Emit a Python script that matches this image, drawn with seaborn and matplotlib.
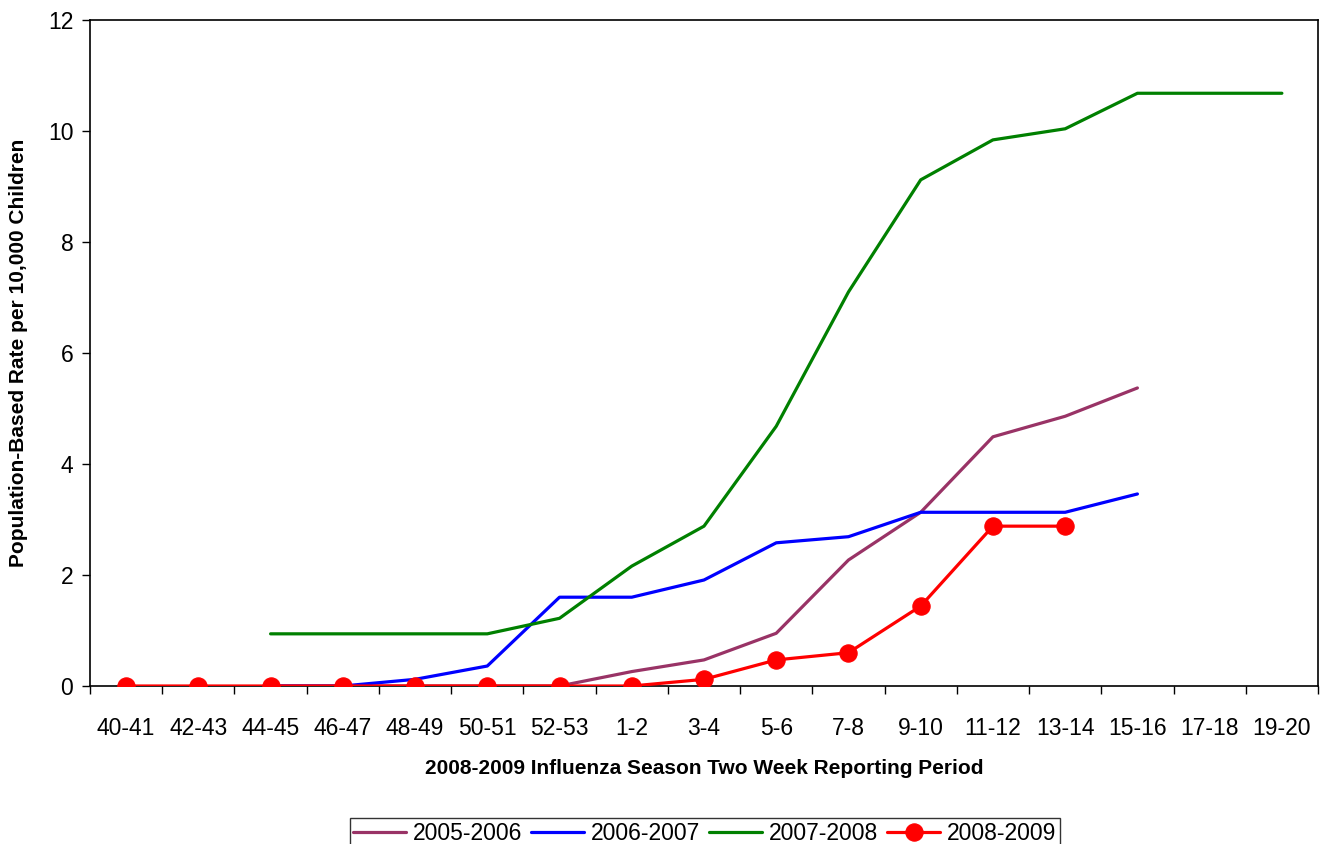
import numpy as np
import pandas as pd
import matplotlib
matplotlib.use('Agg')
import matplotlib.pyplot as plt
import seaborn as sns

periods = ['40-41', '42-43', '44-45', '46-47', '48-49', '50-51', '52-53', '1-2', '3-4',
           '5-6', '7-8', '9-10', '11-12', '13-14', '15-16', '17-18', '19-20']
nan = np.nan
s2005 = [nan, nan, 0.0, 0.0, 0.0, 0.0, 0.0, 0.26, 0.47, 0.95, 2.27, 3.13, 4.49, 4.86, 5.37, nan, nan]
s2006 = [nan, nan, 0.0, 0.0, 0.12, 0.36, 1.60, 1.60, 1.91, 2.58, 2.69, 3.13, 3.13, 3.13, 3.46, nan, nan]
s2007 = [nan, nan, 0.94, 0.94, 0.94, 0.94, 1.22, 2.16, 2.88, 4.68, 7.10, 9.12, 9.84, 10.04, 10.68, 10.68, 10.68]
s2008 = [0.0, 0.0, 0.0, 0.0, 0.0, 0.0, 0.0, 0.0, 0.12, 0.47, 0.60, 1.44, 2.88, 2.88, nan, nan, nan]
seasons = ['2005-2006', '2006-2007', '2007-2008', '2008-2009']
colors = ['#993366', '#0000FF', '#008000', '#FF0000']

sns.set_style('white')
plt.rcParams['font.family'] = ['Liberation Sans', 'DejaVu Sans']
plt.rcParams['text.color'] = 'black'
plt.rcParams['axes.labelcolor'] = 'black'
plt.rcParams['xtick.color'] = 'black'
plt.rcParams['ytick.color'] = 'black'

fig = plt.figure(figsize=(13.27, 8.44), dpi=100)
ax = fig.add_axes([90 / 1327, 1 - 686 / 844, (1318 - 90) / 1327, (686 - 20) / 844])

pos = np.arange(len(periods))
for name, vals, col in zip(seasons, [s2005, s2006, s2007, s2008], colors):
    d = pd.DataFrame({'pos': pos, 'rate': vals}).dropna()
    if name == '2008-2009':
        sns.lineplot(data=d, x='pos', y='rate', ax=ax, color=col, lw=2.3, marker='o',
                     markersize=12.5, markeredgecolor=col, label=name, zorder=5)
    else:
        sns.lineplot(data=d, x='pos', y='rate', ax=ax, color=col, lw=2.3, label=name)

ax.set_xlim(-0.5, len(periods) - 0.5)
ax.set_ylim(0, 12)
ax.set_yticks([0, 2, 4, 6, 8, 10, 12])
ax.set_xticks(pos)
ax.set_xticklabels(periods)
ax.set_xticks(np.arange(-0.5, len(periods), 1), minor=True)
ax.tick_params(axis='x', which='major', length=0, labelsize=16.5, pad=22)
ax.tick_params(axis='x', which='minor', length=6, width=1, color='black', direction='out', bottom=True)
ax.tick_params(axis='y', length=6, width=1, color='black', direction='out', left=True, labelsize=16.5, pad=6)
for sp in ax.spines.values():
    sp.set_color('black')
    sp.set_linewidth(1.2)

ax.set_xlabel('2008-2009 Influenza Season Two Week Reporting Period', fontsize=15, fontweight='bold', labelpad=14)
ax.set_ylabel('Population-Based Rate per 10,000 Children', fontsize=15, fontweight='bold', labelpad=14)

ax.get_legend().remove()
h, l = ax.get_legend_handles_labels()
leg = fig.legend(h, l, loc='upper center', bbox_to_anchor=(0.531, 0.044), ncol=4, fontsize=16.5,
                 frameon=True, fancybox=False, edgecolor='black', handlelength=2.3,
                 handletextpad=0.3, columnspacing=0.4, borderpad=0.15)
leg.get_frame().set_linewidth(1.0)

fig.savefig('out.png', dpi=100)
